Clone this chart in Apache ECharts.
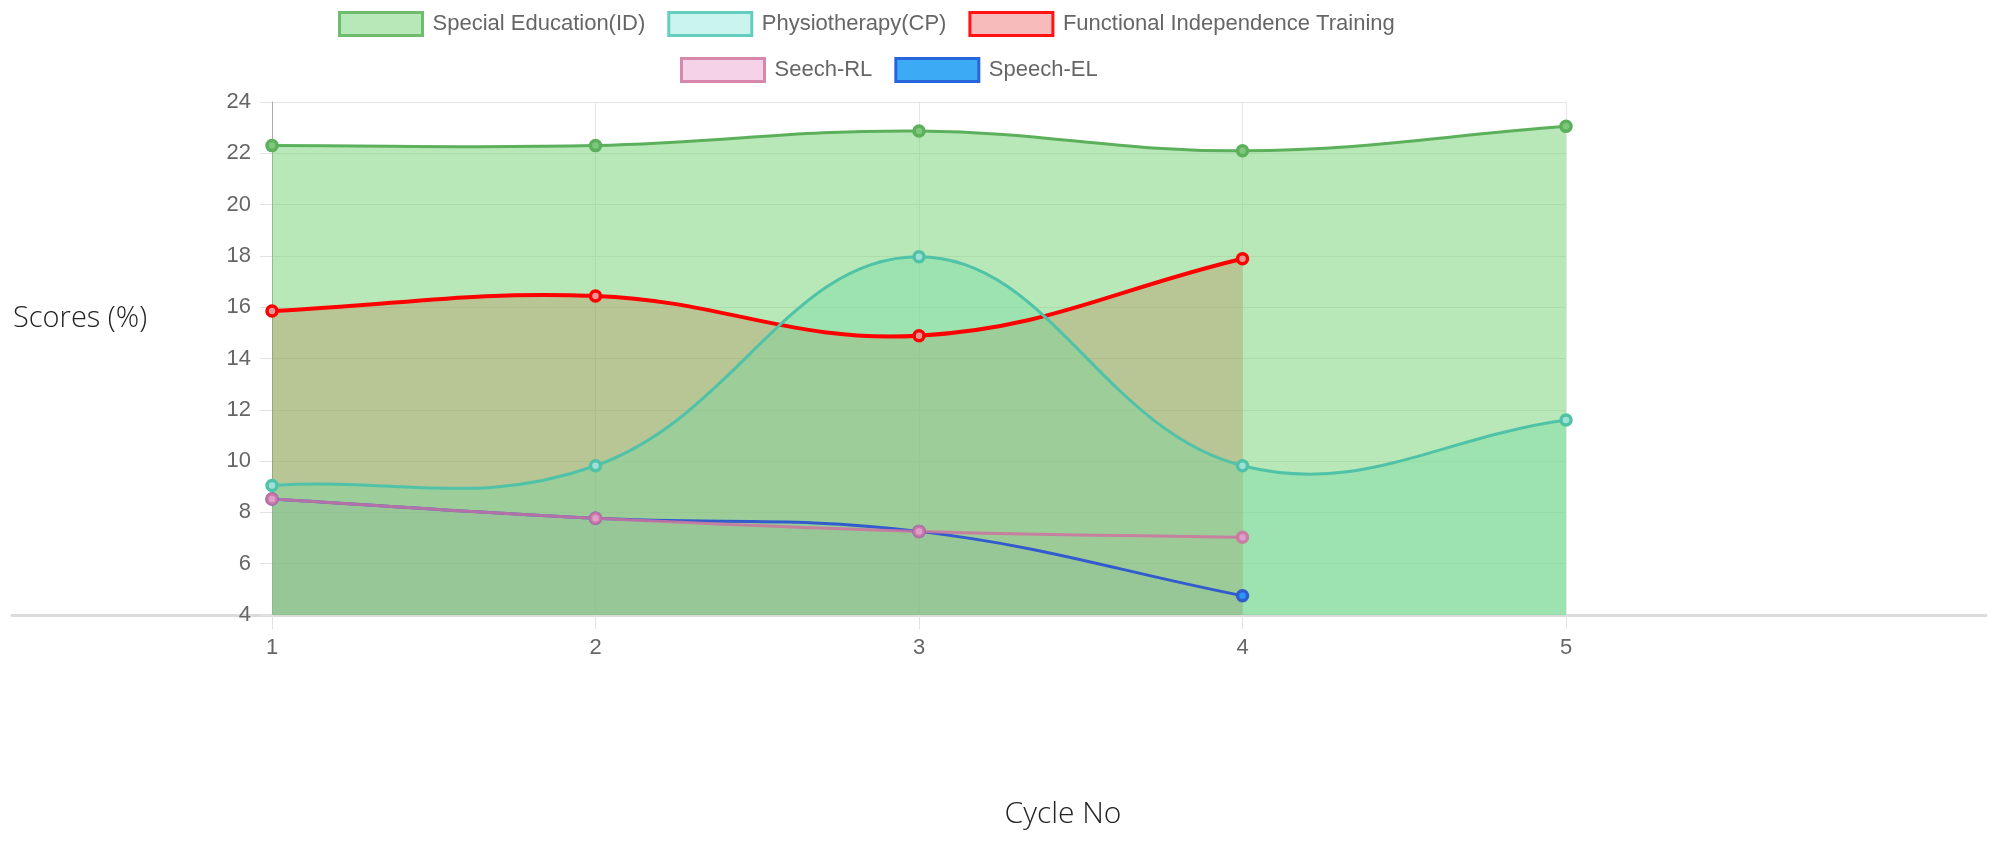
<!DOCTYPE html>
<html>
<head>
<meta charset="utf-8">
<title>Scores by cycle</title>
<script src="https://cdn.jsdelivr.net/npm/echarts@6/dist/echarts.min.js"></script>
<style>
	html, body { margin: 0; padding: 0; background: #fff; }
	#chart { width: 1999px; height: 841px; }
</style>
</head>
<body>
<div id="chart"></div>
<script>
// x axis categories
var cycles = ['1', '2', '3', '4', '5'];

// scores, one list per programme
var specialEducation = [22.3, 22.3, 22.87, 22.1, 23.05];
var physiotherapy = [9.05, 9.82, 17.97, 9.82, 11.6];
var functionalTraining = [15.85, 16.44, 14.89, 17.89];
var speechRL = [8.52, 7.77, 7.26, 7.03];
var speechEL = [8.52, 7.77, 7.26, 4.75];

// y axis ticks
var yMin = 4;
var yMax = 24;
var yStep = 2;

var names = ['Special Education(ID)', 'Physiotherapy(CP)', 'Functional Independence Training', 'Seech-RL', 'Speech-EL'];
var values = [specialEducation, physiotherapy, functionalTraining, speechRL, speechEL];

// look of each programme
var looks = [
	{ line: 'rgb(92,176,92)', area: 'rgba(113,209,113,0.5)', point: 'rgb(125,200,125)', box: 'rgb(184,232,184)', boxBorder: 'rgb(110,188,110)', width: 3 },
	{ line: 'rgb(80,194,168)', area: 'rgba(120,230,210,0.4)', point: 'rgb(160,225,215)', box: 'rgb(202,245,238)', boxBorder: 'rgb(100,205,190)', width: 3 },
	{ line: 'rgb(255,0,0)', area: 'rgba(255,0,0,0.27)', point: 'rgb(235,150,150)', box: 'rgb(248,187,187)', boxBorder: 'rgb(255,20,20)', width: 4 },
	{ line: 'rgba(205,115,160,0.85)', area: 'rgba(240,170,210,0.2)', point: 'rgb(220,160,200)', box: 'rgb(245,210,232)', boxBorder: 'rgb(215,135,170)', width: 3 },
	{ line: 'rgb(50,92,205)', area: 'rgba(40,110,220,0.15)', point: 'rgb(40,150,250)', box: 'rgb(60,170,245)', boxBorder: 'rgb(40,100,220)', width: 3 }
];

var tension = 0.4;
var legendFont = '"Liberation Sans", Arial, sans-serif';
var titleFont = '"Open Sans", "Noto Sans", sans-serif';

function legendItems(from, to) {
	let items = [];
	for (let i = from; i < to; i++) {
		items.push({
			name: names[i],
			icon: 'rect',
			itemStyle: { color: looks[i].box, borderColor: looks[i].boxBorder, borderWidth: 3 }
		});
	}
	return items;
}

// pixel positions of every point of the series, through the axes
function seriesPixels(api, n) {
	let pts = [];
	for (let k = 0; k < n; k++) {
		pts.push(api.coord([api.value(0, k), api.value(1, k)]));
	}
	return pts;
}

// same curve shape as chart.js (tension spline)
function curvePath(pts, top, bottom) {
	let cps = [];
	for (let i = 0; i < pts.length; i++) {
		let p0 = pts[Math.max(i - 1, 0)];
		let p1 = pts[i];
		let p2 = pts[Math.min(i + 1, pts.length - 1)];
		let d01 = Math.hypot(p1[0] - p0[0], p1[1] - p0[1]);
		let d12 = Math.hypot(p2[0] - p1[0], p2[1] - p1[1]);
		let fa = (d01 / (d01 + d12) || 0) * tension;
		let fb = (d12 / (d01 + d12) || 0) * tension;
		let clamp = function (y) { return Math.min(Math.max(y, top), bottom); };
		cps.push({
			prev: [p1[0] - fa * (p2[0] - p0[0]), clamp(p1[1] - fa * (p2[1] - p0[1]))],
			next: [p1[0] + fb * (p2[0] - p0[0]), clamp(p1[1] + fb * (p2[1] - p0[1]))]
		});
	}
	let d = 'M' + pts[0][0] + ' ' + pts[0][1];
	for (let i = 0; i < pts.length - 1; i++) {
		d += ' C' + cps[i].next[0] + ' ' + cps[i].next[1] + ' ' +
			cps[i + 1].prev[0] + ' ' + cps[i + 1].prev[1] + ' ' +
			pts[i + 1][0] + ' ' + pts[i + 1][1];
	}
	return d;
}

function makeArea(i) {
	return function (params, api) {
		if (params.dataIndexInside !== 0) return null;
		let pts = seriesPixels(api, params.dataInsideLength);
		let top = api.coord([0, yMax])[1];
		let base = api.coord([0, yMin])[1];
		let d = curvePath(pts, top, base) +
			' L' + pts[pts.length - 1][0] + ' ' + base +
			' L' + pts[0][0] + ' ' + base + ' Z';
		return { type: 'path', shape: { pathData: d }, style: { fill: looks[i].area, stroke: null } };
	};
}

function makeLine(i) {
	return function (params, api) {
		let children = [];
		if (params.dataIndexInside === 0) {
			let pts = seriesPixels(api, params.dataInsideLength);
			let top = api.coord([0, yMax])[1];
			let base = api.coord([0, yMin])[1];
			children.push({
				type: 'path',
				shape: { pathData: curvePath(pts, top, base) },
				style: { fill: 'none', stroke: looks[i].line, lineWidth: looks[i].width }
			});
		}
		let p = api.coord([api.value(0), api.value(1)]);
		children.push({
			type: 'circle',
			z2: 10,
			shape: { cx: p[0], cy: p[1], r: 5 },
			style: { fill: looks[i].point, stroke: looks[i].line, lineWidth: 3.5 }
		});
		return { type: 'group', children: children };
	};
}

// chart.js paints the first dataset last, and all fills sit under the lines
var areaSeries = [];
var lineSeries = [];
for (let i = names.length - 1; i >= 0; i--) {
	let data = values[i].map(function (v, k) { return [cycles[k], v]; });
	areaSeries.push({
		name: names[i],
		type: 'custom',
		z: 1,
		silent: true,
		renderItem: makeArea(i),
		data: data
	});
	lineSeries.push({
		name: names[i],
		type: 'custom',
		z: 3,
		renderItem: makeLine(i),
		data: data
	});
}

var chart = echarts.init(document.getElementById('chart'), null, { renderer: 'canvas' });

var option = {
	backgroundColor: '#fff',
	animation: false,
	legend: [{
		data: legendItems(0, 3),
		left: 338,
		top: 11,
		padding: 0,
		itemWidth: 83,
		itemHeight: 23,
		itemGap: 22,
		textStyle: { fontFamily: legendFont, fontSize: 22, color: '#666', padding: [0, 0, 0, 5] }
	}, {
		data: legendItems(3, 5),
		left: 680,
		top: 57,
		padding: 0,
		itemWidth: 83,
		itemHeight: 23,
		itemGap: 22,
		textStyle: { fontFamily: legendFont, fontSize: 22, color: '#666', padding: [0, 0, 0, 5] }
	}],
	grid: [
		{ left: 272, right: 433, top: 102, bottom: 226 },
		{ left: 12, right: 13, top: 102, bottom: 226 }
	],
	xAxis: [{
		type: 'category',
		boundaryGap: false,
		data: cycles,
		axisLine: { show: false },
		axisTick: { show: true, length: 14, lineStyle: { color: '#e2e2e2' } },
		axisLabel: { fontFamily: legendFont, fontSize: 22, color: '#666', margin: 22 },
		splitLine: { show: true, lineStyle: { color: '#e6e6e6' } }
	}, {
		// long base line running across the whole width
		gridIndex: 1,
		type: 'value',
		min: 0,
		max: 1,
		axisLine: { show: true, lineStyle: { color: '#dcdcdc', width: 3 } },
		axisTick: { show: false },
		axisLabel: { show: false },
		splitLine: { show: false }
	}],
	yAxis: [{
		type: 'value',
		min: yMin,
		max: yMax,
		interval: yStep,
		axisLine: { show: true, lineStyle: { color: '#aaaaaa' } },
		axisTick: { show: true, length: 12, lineStyle: { color: '#e2e2e2' } },
		axisLabel: { fontFamily: legendFont, fontSize: 22, color: '#666', margin: 21 },
		splitLine: { show: true, lineStyle: { color: '#e6e6e6' } }
	}, {
		gridIndex: 1,
		type: 'value',
		show: false
	}],
	graphic: [{
		type: 'text',
		left: 13,
		top: 304,
		style: { text: 'Scores (%)', fill: '#222', fontSize: 29, fontWeight: 300, fontFamily: titleFont }
	}, {
		type: 'text',
		x: 1063,
		y: 814,
		style: { text: 'Cycle No', fill: '#222', fontSize: 30, fontWeight: 300, fontFamily: titleFont, align: 'center', verticalAlign: 'middle' }
	}],
	series: areaSeries.concat(lineSeries)
};

chart.setOption(option);
</script>
</body>
</html>
